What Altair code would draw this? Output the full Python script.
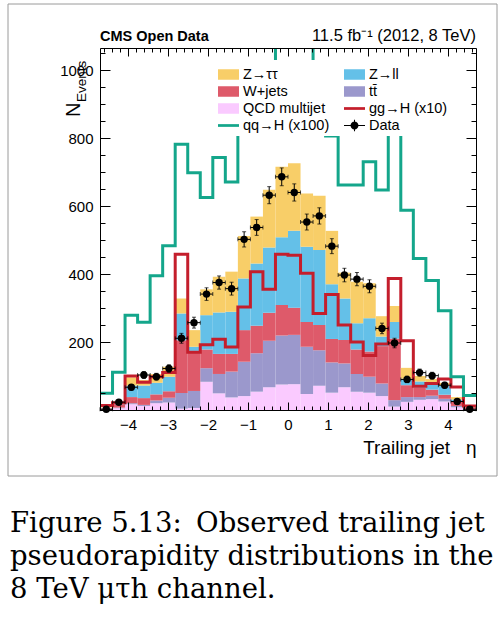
import altair as alt
import numpy as np
import pandas as pd

# 30 bins in trailing-jet pseudorapidity
N_BINS = 30
ETA_MIN, ETA_MAX = -4.7, 4.7
edges = np.linspace(ETA_MIN, ETA_MAX, N_BINS + 1)
bin_lo, bin_hi = edges[:-1], edges[1:]
bin_mid = 0.5 * (bin_lo + bin_hi)

# Expected yields per bin (stacked bottom to top)
qcd = [1, 5, 17, 12, 20, 22, 4, 6, 83, 49, 37, 41, 54, 67, 75,
       76, 47, 71, 51, 67, 54, 51, 41, 10, 24, 30, 32, 25, 8, 2]
ttbar = [1, 2, 3, 3, 8, 14, 46, 50, 40, 57, 76, 101, 113, 137, 144,
         145, 139, 105, 89, 70, 52, 47, 37, 19, 14, 8, 10, 8, 4, 1]
wjets = [3, 10, 18, 20, 18, 19, 155, 118, 55, 59, 52, 93, 81, 82, 90,
         80, 73, 74, 69, 69, 72, 74, 110, 181, 35, 28, 18, 12, 12, 4]
zll = [1, 3, 34, 37, 34, 43, 79, 12, 101, 122, 124, 152, 183, 192, 199,
       226, 221, 221, 161, 122, 77, 98, 28, 49, 19, 18, 20, 27, 7, 1]
ztt = [1, 2, 24, 16, 26, 29, 44, 49, 76, 105, 118, 125, 138, 170, 208,
       199, 157, 159, 157, 76, 122, 103, 60, 47, 32, 16, 11, 8, 7, 1]

# Observed events and their statistical uncertainty
data = [2, 23, 67, 103, 98, 122, 211, 257, 341, 375, 357, 502, 537, 632, 686,
        640, 553, 571, 482, 397, 385, 364, 240, 197, 90, 110, 101, 73, 25, 2]
data_err = [1.4, 4.8, 8.2, 10.1, 9.9, 11.0, 14.5, 16.0, 18.5, 19.4, 18.9, 22.4, 23.2, 25.1, 26.2,
            25.3, 23.5, 23.9, 22.0, 19.9, 19.6, 19.1, 15.5, 14.0, 9.5, 10.5, 10.0, 8.5, 5.0, 1.4]

# Signal shapes (scaled)
ggh_x10 = [13, 21, 100, 82, 98, 110, 458, 170, 192, 208, 185, 303, 407, 355, 458,
           455, 402, 284, 340, 250, 200, 160, 194, 387, 204, 70, 78, 91, 68, 12]
qqh_x100 = [49, 111, 279, 258, 395, 483, 782, 698, 625, 743, 671, 900, 960, 990, 1200,
            1250, 1200, 950, 806, 662, 662, 730, 647, 880, 588, 446, 381, 292, 98, 43]

stack_names = ["QCD multijet", "tt\u0304", "W+jets", "Z\u2192ll", "Z\u2192\u03c4\u03c4"]
stack_values = [qcd, ttbar, wjets, zll, ztt]

legend_names = ["Z\u2192\u03c4\u03c4", "Z\u2192ll", "W+jets", "tt\u0304", "QCD multijet",
                "gg\u2192H (x10)", "qq\u2192H (x100)", "Data"]
legend_colors = ["#F8CE68", "#64C0E8", "#DE5A6A", "#9B98CC", "#FACAFF",
                 "#C41E2C", "#14A68B", "#000000"]
BOX = "M-1,-0.5H1V0.5H-1Z"
BAND = "M-1,-0.13H1V0.13H-1Z"
DATA_SYM = ("M-1,-0.05H1V0.05H-1Z M-0.05,-0.55H0.05V0.55H-0.05Z "
            "M0.38,0A0.38,0.38,0,1,1,-0.38,0A0.38,0.38,0,1,1,0.38,0Z")
legend_shapes = [BOX, BOX, BOX, BOX, BOX, BAND, BAND, DATA_SYM]

Y_MAX = 1065
FONT = "Liberation Sans"
THIN = "\u2009"

stack_df = pd.DataFrame([
    {"lo": bin_lo[i], "hi": bin_hi[i], "process": name, "value": vals[i], "order": k}
    for k, (name, vals) in enumerate(zip(stack_names, stack_values))
    for i in range(N_BINS)
])
line_df = pd.DataFrame({
    "eta": edges,
    "ggh": ggh_x10 + [ggh_x10[-1]],
    "qqh": qqh_x100 + [qqh_x100[-1]],
})
data_df = pd.DataFrame({
    "mid": bin_mid, "lo": bin_lo, "hi": bin_hi,
    "n": data, "err": data_err,
})
data_df["n_lo"] = data_df["n"] - data_df["err"]
data_df["n_hi"] = data_df["n"] + data_df["err"]

x_scale = alt.Scale(domain=[ETA_MIN, ETA_MAX], nice=False, zero=False)
y_scale = alt.Scale(domain=[0, Y_MAX], nice=False, zero=False)
stack_color = alt.Scale(domain=legend_names[:5], range=legend_colors[:5])

x_major = list(range(-4, 5))
x_minor = [round(v, 1) for v in np.arange(-4.6, 4.61, 0.2)]
y_major = list(range(0, 1001, 200))
y_minor = list(range(0, 1051, 50))


def tick_axis(values, orient, size):
    return alt.Axis(values=values, orient=orient, labels=False, domain=False, grid=False,
                    ticks=True, tickSize=size, offset=-size, tickColor="black",
                    tickWidth=1, title=None, zindex=1)


def edge_axis(orient):
    return alt.Axis(orient=orient, labels=False, ticks=False, grid=False, domain=True,
                    domainColor="black", domainWidth=1, title=None, zindex=1)


bars = alt.Chart(stack_df).transform_stack(
    stack="value", groupby=["lo"], as_=["y0", "y1"],
    sort=[alt.SortField("order", order="ascending")]
).mark_rect(strokeWidth=0).encode(
    x=alt.X("lo:Q", scale=x_scale, axis=alt.Axis(
        values=x_major, orient="bottom", ticks=False, grid=False, domain=True,
        domainColor="black", zindex=1, labelFont=FONT, labelFontSize=15,
        labelColor="black", labelPadding=7, format="d",
        title="Trailing jet\u00a0\u00a0\u00a0\u03b7", titleAnchor="end", titleFont=FONT,
        titleFontSize=19, titleFontWeight="normal", titleColor="black", titlePadding=6)),
    x2="hi:Q",
    y=alt.Y("y0:Q", scale=y_scale, axis=alt.Axis(
        values=[200, 400, 600, 800, 1000], orient="left", ticks=False, grid=False,
        domain=True, domainColor="black", zindex=1, labelFont=FONT, labelFontSize=15,
        labelColor="black", labelPadding=7, format="d", title=None)),
    y2="y1:Q",
    color=alt.Color("process:N", scale=stack_color, legend=None),
)

ggh = alt.Chart(line_df).mark_line(interpolate="step-after", color="#C41E2C",
                                   strokeWidth=3, clip=True).encode(
    x=alt.X("eta:Q", scale=x_scale, axis=tick_axis(x_major, "bottom", 8)),
    y=alt.Y("ggh:Q", scale=y_scale, axis=tick_axis(y_major, "left", 10)),
)
qqh = alt.Chart(line_df).mark_line(interpolate="step-after", color="#14A68B",
                                   strokeWidth=3, clip=True).encode(
    x=alt.X("eta:Q", scale=x_scale, axis=tick_axis(x_minor, "bottom", 4)),
    y=alt.Y("qqh:Q", scale=y_scale, axis=tick_axis(y_minor, "left", 5)),
)

xerr = alt.Chart(data_df).mark_rule(color="black", strokeWidth=1).encode(
    x=alt.X("lo:Q", scale=x_scale, axis=tick_axis(x_major, "top", 8)),
    x2="hi:Q",
    y=alt.Y("n:Q", scale=y_scale, axis=tick_axis(y_major, "right", 10)),
)
yerr = alt.Chart(data_df).mark_rule(color="black", strokeWidth=1).encode(
    x=alt.X("mid:Q", scale=x_scale, axis=tick_axis(x_minor, "top", 4)),
    y=alt.Y("n_lo:Q", scale=y_scale, axis=tick_axis(y_minor, "right", 5)),
    y2="n_hi:Q",
)
points = alt.Chart(data_df).mark_point(shape="circle", filled=True, size=55,
                                       color="black", opacity=1).encode(
    x=alt.X("mid:Q", scale=x_scale, axis=edge_axis("top")),
    y=alt.Y("n:Q", scale=y_scale, axis=edge_axis("right")),
)
ycap_lo = alt.Chart(data_df).mark_tick(color="black", thickness=1, size=4,
                                       orient="horizontal").encode(
    x=alt.X("mid:Q", scale=x_scale, axis=None),
    y=alt.Y("n_lo:Q", scale=y_scale, axis=None),
)
ycap_hi = alt.Chart(data_df).mark_tick(color="black", thickness=1, size=4,
                                       orient="horizontal").encode(
    x=alt.X("mid:Q", scale=x_scale, axis=None),
    y=alt.Y("n_hi:Q", scale=y_scale, axis=None),
)
xcap_lo = alt.Chart(data_df).mark_tick(color="black", thickness=1, size=4,
                                       orient="vertical").encode(
    x=alt.X("lo:Q", scale=x_scale, axis=None),
    y=alt.Y("n:Q", scale=y_scale, axis=None),
)
xcap_hi = alt.Chart(data_df).mark_tick(color="black", thickness=1, size=4,
                                       orient="vertical").encode(
    x=alt.X("hi:Q", scale=x_scale, axis=None),
    y=alt.Y("n:Q", scale=y_scale, axis=None),
)

legend_layer = alt.Chart(pd.DataFrame({"series": legend_names})).transform_filter(
    "false"
).mark_point(filled=True, opacity=1).encode(
    fill=alt.Fill("series:N", scale=alt.Scale(domain=legend_names, range=legend_colors),
                  legend=alt.Legend(
                      orient="none", legendX=114, legendY=12, columns=2,
                      direction="horizontal", title=None,
                      fillColor="white", padding=4, labelFont=FONT, labelFontSize=14.5,
                      labelColor="black", symbolSize=441, symbolStrokeWidth=0,
                      symbolOpacity=1, labelOffset=4, columnPadding=14, rowPadding=-3,
                      labelLimit=0)),
    shape=alt.Shape("series:N", scale=alt.Scale(domain=legend_names, range=legend_shapes)),
)

one = pd.DataFrame({"k": [0]})
cms_label = alt.Chart(one).mark_text(
    text="CMS Open Data", font=FONT, fontSize=14.5, fontWeight="bold",
    align="left", baseline="alphabetic", color="black"
).encode(x=alt.value(0), y=alt.value(-7))
lumi_label = alt.Chart(one).mark_text(
    text="11.5 fb\u207b\u00b9 (2012, 8 TeV)", font=FONT, fontSize=16.5,
    align="right", baseline="alphabetic", color="black"
).encode(x=alt.value(376), y=alt.value(-7))
ytitle_n = alt.Chart(one).mark_text(
    text="N", font=FONT, fontSize=20, angle=270, align="left",
    baseline="alphabetic", color="black"
).encode(x=alt.value(-20), y=alt.value(69))
ytitle_sub = alt.Chart(one).mark_text(
    text="Events", font=FONT, fontSize=13.5, angle=270, align="left",
    baseline="alphabetic", color="black"
).encode(x=alt.value(-14), y=alt.value(54))
caption = alt.Chart(one).mark_text(
    text=["Figure 5.13:" + THIN + "  Observed trailing jet",
          "pseudorapidity distributions in the",
          "8 TeV \u03bc\u03c4h channel."],
    font="DejaVu Serif", fontSize=27.5, lineHeight=33, align="left",
    baseline="alphabetic", color="black"
).encode(x=alt.value(-90), y=alt.value(484))
border = alt.Chart(one).mark_rect(fill="transparent", stroke="#9a9a9a", strokeWidth=1).encode(
    x=alt.value(-92), x2=alt.value(397), y=alt.value(-44), y2=alt.value(428)
)

chart = alt.layer(
    border, legend_layer, bars, ggh, qqh, xerr, yerr, ycap_lo, ycap_hi, xcap_lo, xcap_hi,
    points, cms_label, lumi_label, ytitle_n, ytitle_sub, caption
).resolve_axis(x="independent", y="independent").properties(
    width=376, height=362,
    autosize=alt.AutoSizeParams(type="none"),
    padding={"left": 100, "top": 48, "right": 27, "bottom": 212},
).configure_view(strokeWidth=0).configure(background="white")

chart.save("out.html", embed_options={"renderer": "svg", "actions": False})
